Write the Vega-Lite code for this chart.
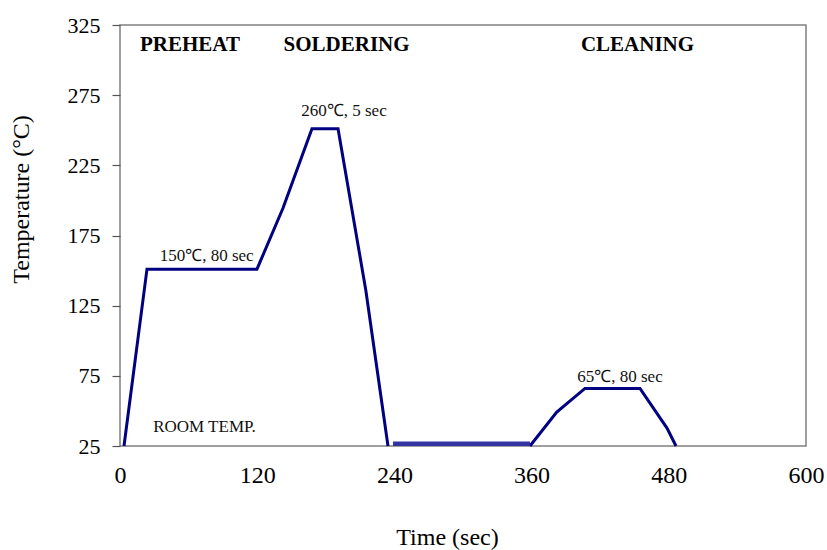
{
  "$schema": "https://vega.github.io/schema/vega-lite/v6.json",
  "width": 686,
  "height": 421,
  "autosize": {"type": "none"},
  "padding": {"left": 120, "top": 25, "right": 21, "bottom": 104},
  "background": "white",
  "config": {
    "view": {"stroke": "#808080", "strokeWidth": 1.5},
    "font": "Liberation Serif"
  },
  "datasets": {
    "profile": [
      {"seg": "a", "t": 3.5, "temp": 25},
      {"seg": "a", "t": 23.6, "temp": 151},
      {"seg": "a", "t": 119.8, "temp": 151},
      {"seg": "a", "t": 142.6, "temp": 194.6},
      {"seg": "a", "t": 167.9, "temp": 251},
      {"seg": "a", "t": 190.7, "temp": 251},
      {"seg": "a", "t": 215, "temp": 136},
      {"seg": "a", "t": 234.4, "temp": 25},
      {"seg": "b", "t": 238.8, "temp": 26.6},
      {"seg": "b", "t": 358.6, "temp": 26.6},
      {"seg": "c", "t": 358.6, "temp": 25},
      {"seg": "c", "t": 382, "temp": 49.2},
      {"seg": "c", "t": 406.7, "temp": 66},
      {"seg": "c", "t": 454.8, "temp": 66},
      {"seg": "c", "t": 478.4, "temp": 37.8},
      {"seg": "c", "t": 486.3, "temp": 25}
    ],
    "headers": [
      {"label": "PREHEAT", "t": 61.2, "temp": 311.1},
      {"label": "SOLDERING", "t": 198.2, "temp": 311.1},
      {"label": "CLEANING", "t": 452.6, "temp": 311.1}
    ],
    "notes": [
      {"label": "150℃, 80 sec", "t": 75.8, "temp": 160.4},
      {"label": "260℃, 5 sec", "t": 195.9, "temp": 263.7},
      {"label": "65℃, 80 sec", "t": 437.3, "temp": 74.4},
      {"label": "ROOM TEMP.", "t": 73.9, "temp": 38.5}
    ]
  },
  "encoding": {
    "x": {
      "field": "t", "type": "quantitative",
      "scale": {"domain": [0, 600], "nice": false, "zero": false},
      "axis": {
        "title": "Time (sec)",
        "values": [0, 120, 240, 360, 480, 600],
        "grid": false, "ticks": false, "domain": false,
        "labelFont": "Liberation Serif", "labelFontSize": 24, "labelColor": "#000",
        "labelPadding": 17, "labelFlush": false,
        "titleFont": "Liberation Serif", "titleFontSize": 24, "titleFontWeight": "normal",
        "titleColor": "#000", "titlePadding": 38, "titleX": 327
      }
    },
    "y": {
      "field": "temp", "type": "quantitative",
      "scale": {"domain": [25, 325], "nice": false, "zero": false},
      "axis": {
        "title": "Temperature (°C)",
        "values": [25, 75, 125, 175, 225, 275, 325],
        "grid": false, "domain": false,
        "ticks": true, "tickSize": 8, "tickColor": "#555", "tickWidth": 1.2,
        "labelFont": "Liberation Serif", "labelFontSize": 22, "labelColor": "#000",
        "labelPadding": 12, "labelFlush": false,
        "titleFont": "Liberation Serif", "titleFontSize": 24, "titleFontWeight": "normal",
        "titleColor": "#000", "titlePadding": 34, "titleY": 174
      }
    }
  },
  "layer": [
    {
      "data": {"name": "profile"},
      "transform": [{"filter": "datum.seg !== 'b'"}],
      "mark": {"type": "line", "color": "#000080", "strokeWidth": 3, "clip": false},
      "encoding": {"detail": {"field": "seg"}}
    },
    {
      "data": {"name": "profile"},
      "transform": [{"filter": "datum.seg === 'b'"}],
      "mark": {"type": "line", "color": "#3333a3", "strokeWidth": 4.5},
      "encoding": {}
    },
    {
      "data": {"name": "headers"},
      "mark": {"type": "text", "font": "Liberation Serif", "fontSize": 21, "fontWeight": "bold", "color": "#000", "baseline": "middle", "align": "center"},
      "encoding": {"text": {"field": "label"}}
    },
    {
      "data": {"name": "notes"},
      "mark": {"type": "text", "font": "Liberation Serif", "fontSize": 17, "color": "#111", "baseline": "middle", "align": "center"},
      "encoding": {"text": {"field": "label"}}
    }
  ]
}
